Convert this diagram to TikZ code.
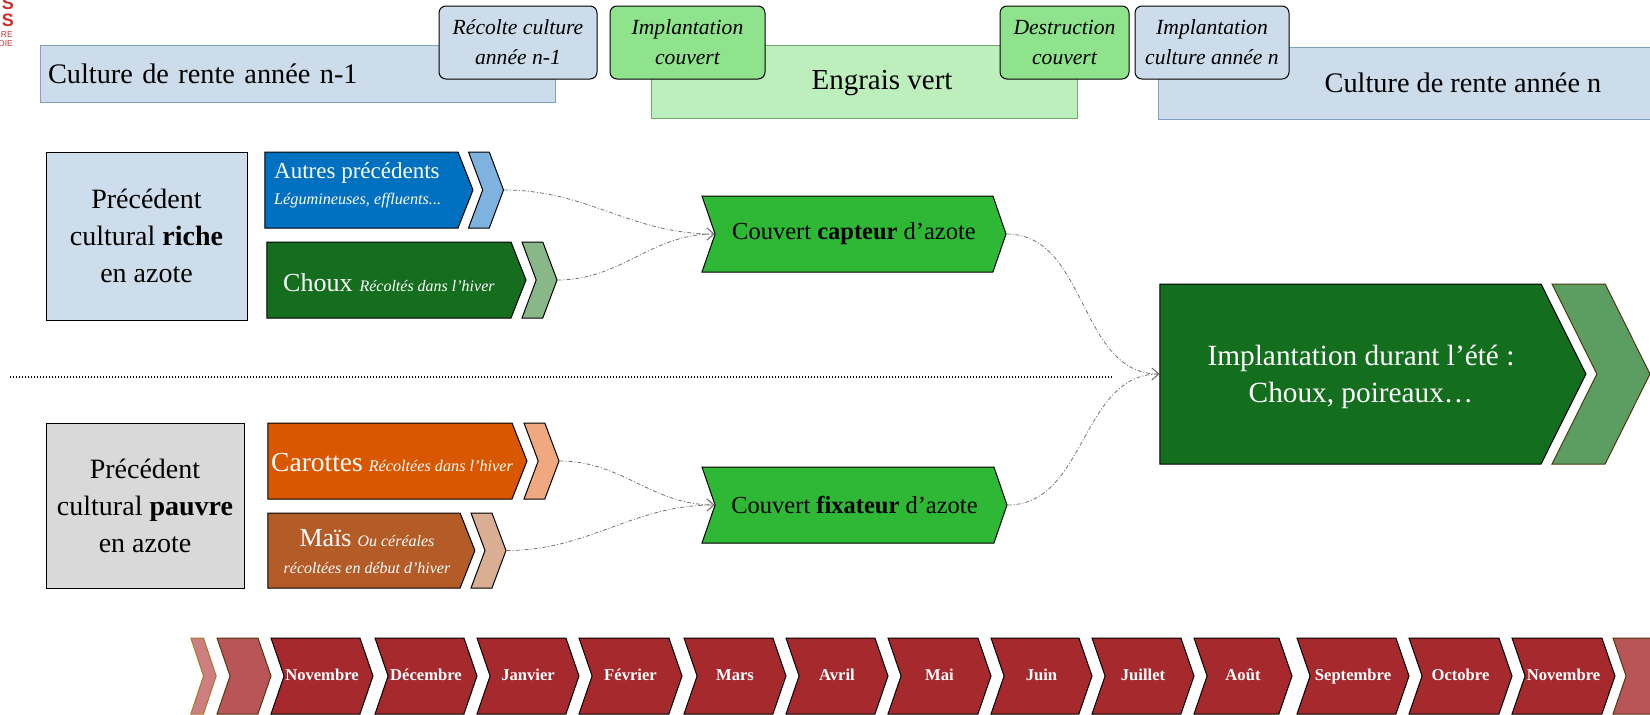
\documentclass[tikz,border=0pt]{standalone}
\usepackage{fontspec}
\setmainfont{Liberation Serif}
\setsansfont{Liberation Sans}
\usetikzlibrary{positioning, shapes.symbols, arrows.meta, calc}

\definecolor{rentebleu}{HTML}{CCDCEA}
\definecolor{rentebord}{HTML}{7F9FC6}
\definecolor{engrais}{HTML}{BDEFBC}
\definecolor{engraisbord}{HTML}{6FA86C}
\definecolor{couvert}{HTML}{8FE38C}
\definecolor{riche}{HTML}{CDDDEB}
\definecolor{pauvre}{HTML}{D9D9D9}
\definecolor{autres}{HTML}{0070C0}
\definecolor{autresclair}{HTML}{7DB3DE}
\definecolor{choux}{HTML}{146E1E}
\definecolor{chouxclair}{HTML}{88B888}
\definecolor{carottes}{HTML}{D95700}
\definecolor{carottesclair}{HTML}{EFA87F}
\definecolor{mais}{HTML}{B35C27}
\definecolor{maisclair}{HTML}{D9AE92}
\definecolor{capteur}{HTML}{2EB836}
\definecolor{ete}{HTML}{136E1D}
\definecolor{eteclair}{HTML}{5C9E61}
\definecolor{moisrouge}{HTML}{A6292D}
\definecolor{moisclair}{HTML}{B95556}
\definecolor{moispale}{HTML}{CD7F80}
\definecolor{brun}{HTML}{4D3A12}
\definecolor{ocre}{HTML}{A07C30}
\definecolor{logorouge}{HTML}{C9302C}

\newcommand{\taille}[2]{\fontsize{#1}{#2}\selectfont}

\begin{document}
\begin{tikzpicture}[
  x=1pt, y=-1pt,
  every node/.style={inner sep=0pt},
  rente/.style={draw=rentebord, fill=rentebleu, line width=1pt, font=\taille{28.3}{35}},
  etape/.style={draw=black, line width=1pt, rounded corners=7pt, align=center,
    font=\taille{21.6}{30}\itshape, minimum height=73pt},
  bloc/.style={draw=black, line width=1pt, align=center, font=\taille{28}{37}},
  fleche/.style={shape=signal, signal to=east, draw=black, line width=1pt,
    signal pointer angle=137, minimum height=76pt},
  chevron/.style={fleche, signal from=west},
  petit/.style={chevron, signal pointer angle=139, minimum width=35pt},
  moisbox/.style={chevron, fill=moisrouge, signal pointer angle=142, text=white,
    font=\taille{16.6}{20}\bfseries, text height=11.5pt, text depth=3.5pt},
  lien/.style={draw=black!55, line width=0.8pt, dash pattern=on 4pt off 2pt on 1pt off 2pt,
    -{Straight Barb[length=7pt,width=12pt,line width=0.8pt]}}
]
\useasboundingbox (0,0) rectangle (1650,715);

% Logo (coupe)
\node[anchor=east, text=logorouge, font=\sffamily\bfseries\taille{18}{18}] (logoA) at (14,3) {S};
\node[anchor=east, text=logorouge, font=\sffamily\bfseries\taille{18}{18}] (logoB) at (14,20) {S};
\node[anchor=east, text=logorouge, font=\sffamily\taille{8.5}{9}] (logoC) at (13,35) {RE};
\node[anchor=east, text=logorouge, font=\sffamily\taille{8.5}{9}] (logoD) at (13,44) {DIE};

% Bandeau du haut
\node[rente, minimum width=515pt, minimum height=57pt, text width=499pt, align=left] (renteAvant) at (297.5,73.5) {Culture de rente année n-1};
\node[rente, minimum width=610pt, minimum height=72pt] (renteApres) at (1463,83) {Culture de rente année n};
\node[draw=engraisbord, fill=engrais, line width=1pt, minimum width=426pt, minimum height=73pt] (engrais) at (864,81.5) {};
\node[font=\taille{29}{35}] (engraisTxt) at (882,83) {Engrais vert};

\node[etape, fill=rentebleu, minimum width=158pt] (recolte) at (518,42.5) {Récolte culture\\année n-1};
\node[etape, fill=couvert, minimum width=155pt] (implCouvert) at (687.5,42.5) {Implantation\\couvert};
\node[etape, fill=couvert, minimum width=129pt] (destruction) at (1064.5,42.5) {Destruction\\couvert};
\node[etape, fill=rentebleu, minimum width=154pt] (implCulture) at (1212,42.5) {Implantation\\culture année n};

% Precedents riches
\node[bloc, fill=riche, minimum width=201pt, minimum height=168pt] (riche) at (146.5,236) {Précédent\\cultural \textbf{riche}\\en azote};

\node[fleche, fill=autres, minimum width=208pt] (autres) at (361.5,190) {};
\node[anchor=west, text=white, font=\taille{23}{27}] (autresTxt) at (274,173) {Autres précédents};
\node[anchor=west, text=white, font=\taille{16.2}{19}\itshape] (autresDet) at (274,201) {Légumineuses, effluents...};
\node[petit, fill=autresclair] (autresS) at (486,190) {};

\node[fleche, fill=choux, minimum width=259pt] (choux) at (389,280) {};
\node[anchor=west, text=white] (chouxTxt) at (283,283) {\taille{26}{30}Choux\hspace{7pt}{\taille{16}{19}\itshape Récoltés dans l’hiver}};
\node[petit, fill=chouxclair] (chouxS) at (539.5,280) {};

% Precedents pauvres
\node[bloc, fill=pauvre, minimum width=198pt, minimum height=165pt] (pauvre) at (145,505.5) {Précédent\\cultural \textbf{pauvre}\\en azote};

\node[fleche, fill=carottes, minimum width=259pt] (carottes) at (390,461) {};
\node[anchor=west, text=white] (carottesTxt) at (271,463) {\taille{27.5}{30}Carottes\hspace{6pt}{\taille{16.2}{19}\itshape Récoltées dans l’hiver}};
\node[petit, fill=carottesclair] (carottesS) at (541.5,461) {};

\node[fleche, fill=mais, minimum width=207pt, minimum height=75pt] (mais) at (364,550.5) {};
\node[text=white] (maisTxt) at (367,538) {\taille{26}{30}Maïs\hspace{6pt}{\taille{16}{19}\itshape Ou céréales}};
\node[text=white, font=\taille{16}{19}\itshape] (maisDet) at (367,568) {récoltées en début d’hiver};
\node[petit, fill=maisclair, minimum height=75pt] (maisS) at (488.5,550.5) {};

% Couverts
\node[chevron, fill=capteur, signal pointer angle=142, minimum width=304pt, font=\taille{24.5}{28}] (capteur) at (854,234) {Couvert \textbf{capteur} d’azote};
\node[chevron, fill=capteur, signal pointer angle=142, minimum width=305pt, font=\taille{24.5}{28}] (fixateur) at (854.5,505) {Couvert \textbf{fixateur} d’azote};

% Implantation d'ete
\node[fleche, fill=ete, signal pointer angle=127, minimum width=426pt, minimum height=180pt] (ete) at (1350.5,374) {};
\node[text=white, align=center, font=\taille{29.3}{37}] (eteTxt) at (1361,377) {Implantation durant l’été :\\Choux, poireaux…};
\node[chevron, fill=eteclair, draw=brun, signal pointer angle=127, minimum width=98pt, minimum height=180pt] (eteS) at (1601,374) {};

% Separation
\coordinate (sepG) at (10,377);
\coordinate (sepD) at (1113,377);
\draw[line width=1.2pt, dash pattern=on 1.2pt off 1.8pt] (sepG) -- (sepD);

% Liens
\draw[lien] (autresS.east) to[out=0, in=180] (capteur.west);
\draw[lien] (chouxS.east) to[out=0, in=180] (capteur.west);
\draw[lien] (carottesS.east) to[out=0, in=180] (fixateur.west);
\draw[lien] (maisS.east) to[out=0, in=180] (fixateur.west);
\draw[lien] (capteur.east) to[out=0, in=180] (ete.west);
\draw[lien] (fixateur.east) to[out=0, in=180] (ete.west);

% Frise des mois
\node[chevron, fill=moispale, draw=ocre, signal pointer angle=143, minimum width=25pt] (debutA) at (203.5,676) {};
\node[chevron, fill=moisclair, draw=brun, signal pointer angle=142, minimum width=54pt] (debutB) at (244,676) {};
\foreach \x/\w/\nom [count=\i] in {271/102/Novembre, 375/102/Décembre, 477/102/Janvier,
    579/103/Février, 684/102/Mars, 786/102/Avril, 888/103/Mai, 991/101/Juin,
    1092/102/Juillet, 1194/98/Août, 1297/112/Septembre, 1409/103/Octobre, 1512/103/Novembre}
  \node[moisbox, minimum width=\w*1pt] (mois\i) at (\x+\w/2,676) {\nom};
\node[chevron, fill=moisclair, draw=brun, signal pointer angle=142, minimum width=54pt] (suite) at (1640,676) {};

\end{tikzpicture}
\end{document}
